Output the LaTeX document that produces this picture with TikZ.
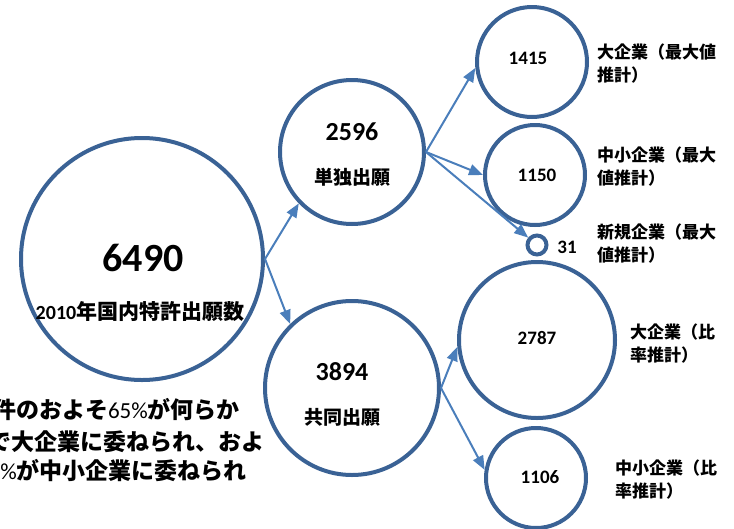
\documentclass[tikz,border=0pt]{standalone}
\usepackage{fontspec}
\setmainfont{Carlito}
\newfontfamily\jp{Noto Sans CJK JP}
\usetikzlibrary{arrows.meta}
\definecolor{ringblue}{HTML}{3A6295}
\definecolor{arrowblue}{HTML}{4A7EBB}
\tikzset{
  ringnode/.style={circle, draw=ringblue, line width=4pt, inner sep=0pt, minimum size=#1},
  conn/.style={draw=arrowblue, line width=2pt, -{Triangle[length=14pt,width=11pt]}},
  num/.style={font=\bfseries\fontsize{#1}{#1}\selectfont, inner sep=0pt},
  jpnum/.style={font=\jp\bfseries\fontsize{#1}{#1}\selectfont, inner sep=0pt},
  lab/.style={font=\jp\bfseries\fontsize{17}{23}\selectfont, align=left, anchor=west, inner sep=0pt},
  note/.style={font=\jp\bfseries\fontsize{23}{23}\selectfont, anchor=east, inner sep=0pt},
}
\begin{document}
\begin{tikzpicture}[x=1pt, y=-1pt]
\path[use as bounding box, clip] (0,0) rectangle (734,528);
% circles
\node[ringnode=242pt] (big) at (142,259) {};
\node[ringnode=144pt] (c2596) at (352,152) {};
\node[ringnode=174pt] (c3894) at (352,388) {};
\node[ringnode=110pt] (c1415) at (532,62) {};
\node[ringnode=100pt] (c1150) at (535,175) {};
\node[ringnode=19pt] (c31) at (537,245) {};
\node[ringnode=156pt] (c2787) at (537,340) {};
\node[ringnode=100pt] (c1106) at (536,478) {};
% texts in circles
\node[num=40] (t6490) at (143,258) {6490};
\node[inner sep=0pt] (l6490) at (140,312) {{\bfseries\fontsize{20}{20}\selectfont 2010}{\jp\bfseries\fontsize{21}{21}\selectfont 年国内特許出願数}};
\node[num=26] (t2596) at (352,132) {2596};
\node[jpnum=19] (l2596) at (352,177) {単独出願};
\node[num=26] (t3894) at (342,372) {3894};
\node[jpnum=19] (l3894) at (342,417) {共同出願};
\node[num=19] (t1415) at (528,58) {1415};
\node[num=19] (t1150) at (537,175) {1150};
\node[num=19] (t31) at (567,247) {31};
\node[num=19] (t2787) at (537,338) {2787};
\node[num=19] (t1106) at (540,477) {1106};
% side labels
\node[lab] (s1) at (597,63.5) {大企業（最大値\\推計）};
\node[lab] (s2) at (597,166.5) {中小企業（最大\\値推計）};
\node[lab] (s3) at (597,243.5) {新規企業（最大\\値推計）};
\node[lab] (s4) at (630,344) {大企業（比\\率推計）};
\node[lab] (s5) at (615,480) {中小企業（比\\率推計）};
% note (cut off at the left edge, as in the reference)
\node[note] (n1) at (240,410) {件のおよそ{\rmfamily\mdseries 65\%}が何らか};
\node[note] (n2) at (265,442) {で大企業に委ねられ、およ};
\node[note] (n3) at (247,471) {{\rmfamily\mdseries\%}が中小企業に委ねられ};
% connectors
\draw[conn] (big.east) -- (c2596.224);
\draw[conn] (big.east) -- (c3894.134);
\draw[conn] (c2596.east) -- (c1415.186);
\draw[conn] (c2596.east) -- (c1150.west);
\draw[conn] (c2596.east) -- (c31);
\draw[conn] (c3894.east) -- (c2787.185);
\draw[conn] (c3894.east) -- (c1106.171);
\end{tikzpicture}
\end{document}
